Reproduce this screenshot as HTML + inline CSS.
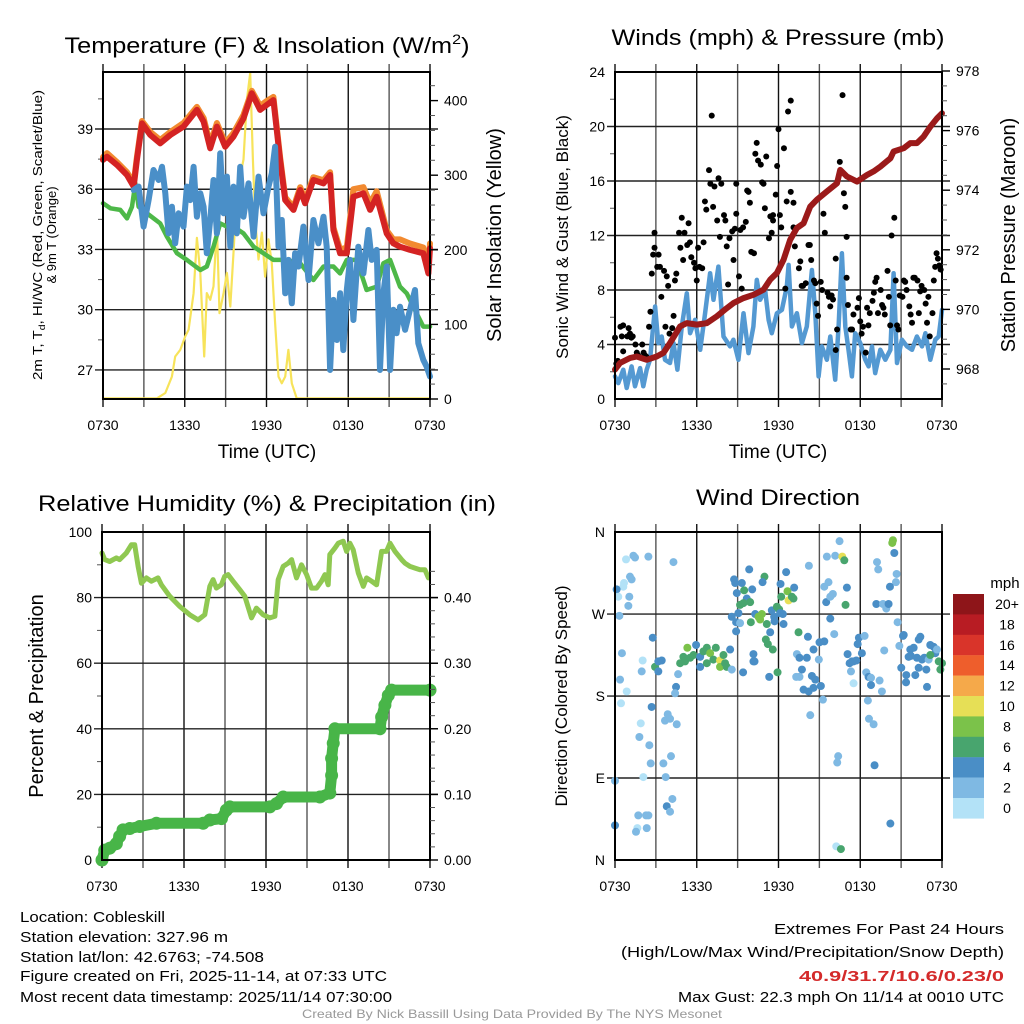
<!DOCTYPE html>
<html><head><meta charset="utf-8"><style>
html,body{margin:0;padding:0;background:#fff;}
svg{display:block;font-family:"Liberation Sans",Arial,sans-serif;}
</style></head><body>
<svg id="fig" width="1024" height="1024" viewBox="0 0 1024 1024" xmlns="http://www.w3.org/2000/svg">
<rect width="1024" height="1024" fill="#fff"/>
<g id="grids"></g>
<g id="series"></g>
<g id="frames"></g>
<g id="labels" fill="#000">
<text x="267" y="53" font-size="22" text-anchor="middle" textLength="405" lengthAdjust="spacingAndGlyphs">Temperature (F) &amp; Insolation (W/m<tspan font-size="14" dy="-9">2</tspan><tspan dy="9">)</tspan></text>
<text x="778" y="45" font-size="22" text-anchor="middle" textLength="333" lengthAdjust="spacingAndGlyphs">Winds (mph) &amp; Pressure (mb)</text>
<text x="267" y="511" font-size="22" text-anchor="middle" textLength="458" lengthAdjust="spacingAndGlyphs">Relative Humidity (%) &amp; Precipitation (in)</text>
<text x="778" y="505" font-size="22" text-anchor="middle" textLength="164" lengthAdjust="spacingAndGlyphs">Wind Direction</text>
<text x="267" y="458" font-size="19" text-anchor="middle">Time (UTC)</text>
<text x="778" y="458" font-size="19" text-anchor="middle">Time (UTC)</text>
<g font-size="13" text-anchor="middle">
<text transform="translate(42,235) rotate(-90)" textLength="290" lengthAdjust="spacingAndGlyphs">2m T, T<tspan font-size="9" dy="3">d</tspan><tspan dy="-3">, HI/WC (Red, Green, Scarlet/Blue)</tspan></text>
<text transform="translate(56,235) rotate(-90)">&amp; 9m T (Orange)</text>
</g>
<text transform="translate(501,235) rotate(-90)" font-size="20" text-anchor="middle">Solar Insolation (Yellow)</text>
<text transform="translate(568,237) rotate(-90)" font-size="17" text-anchor="middle">Sonic Wind &amp; Gust (Blue, Black)</text>
<text transform="translate(1015,235) rotate(-90)" font-size="20" text-anchor="middle">Station Pressure (Maroon)</text>
<text transform="translate(43,696) rotate(-90)" font-size="20" text-anchor="middle">Percent &amp; Precipitation</text>
<text transform="translate(567,696) rotate(-90)" font-size="17" text-anchor="middle">Direction (Colored By Speed)</text>
<text x="1005" y="588" font-size="15" text-anchor="middle">mph</text>
<g font-size="15">
<text x="20" y="922" textLength="145" lengthAdjust="spacingAndGlyphs">Location: Cobleskill</text>
<text x="20" y="942" textLength="208" lengthAdjust="spacingAndGlyphs">Station elevation: 327.96 m</text>
<text x="20" y="962" textLength="244" lengthAdjust="spacingAndGlyphs">Station lat/lon: 42.6763; -74.508</text>
<text x="20" y="981" textLength="367" lengthAdjust="spacingAndGlyphs">Figure created on Fri, 2025-11-14, at 07:33 UTC</text>
<text x="20" y="1002" textLength="372" lengthAdjust="spacingAndGlyphs">Most recent data timestamp: 2025/11/14 07:30:00</text>
</g>
<g font-size="15" text-anchor="end">
<text x="1004" y="934" textLength="230" lengthAdjust="spacingAndGlyphs">Extremes For Past 24 Hours</text>
<text x="1004" y="957" textLength="383" lengthAdjust="spacingAndGlyphs">(High/Low/Max Wind/Precipitation/Snow Depth)</text>
<text x="1004" y="981" fill="#d42a2a" font-weight="bold" textLength="205" lengthAdjust="spacingAndGlyphs">40.9/31.7/10.6/0.23/0</text>
<text x="1004" y="1002" textLength="326" lengthAdjust="spacingAndGlyphs">Max Gust: 22.3 mph On 11/14 at 0010 UTC</text>
</g>
<text x="512" y="1018" font-size="12" fill="#999" text-anchor="middle" textLength="420" lengthAdjust="spacingAndGlyphs">Created By Nick Bassill Using Data Provided By The NYS Mesonet</text>
</g>
</svg>
<script>
// ---- Temperature panel data (hours since 0730 UTC) ----
const redH=[0,0.29,1.03,1.76,2.25,2.49,2.86,3.47,4.20,4.94,5.91,6.89,7.38,7.87,8.36,8.97,9.58,10.31,10.92,11.53,12.02,12.51,13.0,13.37,13.98,14.47,14.83,15.44,16.18,16.67,16.91,17.40,17.89,18.38,19.11,19.60,20.09,20.82,21.31,21.80,22.53,23.51,23.88,24];
const redT=[37.46,37.62,37.21,36.71,36.13,37.46,39.28,38.70,38.29,38.70,39.12,39.95,39.37,38.04,39.12,38.12,38.62,39.53,40.78,39.95,40.20,40.44,37.46,35.46,34.97,35.96,35.30,36.46,36.29,36.71,33.97,32.81,32.81,35.63,35.80,34.97,35.63,33.80,33.31,33.14,32.98,32.81,31.81,33.06];
const orangeT=[37.6,37.8,37.35,36.85,36.3,37.6,39.4,38.85,38.45,38.85,39.3,40.1,39.55,38.25,39.3,38.3,38.8,39.7,40.9,40.15,40.4,40.6,37.6,35.6,35.1,36.1,35.45,36.6,36.45,36.85,34.1,33.0,33.1,36.0,36.1,35.3,35.9,33.95,33.5,33.5,33.3,33.1,32.1,33.3];
const greenH=[0,0.54,1.27,1.76,2.13,2.37,2.61,3.23,4.20,4.69,5.43,6.16,7.14,7.62,8.11,8.60,9.09,9.58,10.31,11.05,11.78,12.51,13.49,14.47,15.44,16.18,16.91,17.40,17.89,18.62,19.35,20.09,20.58,21.07,21.80,22.29,23.02,23.51,24];
const greenT=[35.30,35.05,34.97,34.55,35.13,36.29,35.13,34.80,34.30,33.64,32.81,32.48,31.98,32.15,33.14,34.30,34.14,34.14,33.80,33.14,32.81,32.48,32.48,32.31,31.48,32.15,32.15,31.81,32.48,32.48,30.98,31.15,32.31,32.48,31.15,30.82,29.82,29.16,29.16];
const blueH=[2.25,2.61,2.98,3.35,3.71,4.08,4.33,4.57,4.81,5.06,5.30,5.55,5.91,6.16,6.40,6.65,6.89,7.14,7.38,7.62,7.87,8.11,8.36,8.60,8.85,9.09,9.34,9.58,9.82,10.07,10.31,10.68,11.05,11.41,11.78,12.15,12.39,12.63,12.88,13.12,13.37,13.61,13.86,14.10,14.35,14.71,15.08,15.44,15.81,16.18,16.42,16.67,16.91,17.16,17.40,17.64,17.89,18.13,18.38,18.74,19.11,19.48,19.72,20.09,20.33,20.58,20.82,21.07,21.31,21.55,21.80,22.17,22.53,22.90,23.14,23.51,23.75,24];
const blueT=[35.96,36.13,34.14,35.46,36.96,36.46,37.12,35.80,33.80,35.13,33.31,34.80,34.14,36.13,35.46,37.12,34.63,35.80,35.13,32.81,34.47,36.46,33.80,37.79,34.80,36.63,33.14,36.13,33.80,37.12,34.63,36.29,33.64,36.63,34.80,36.13,36.79,38.12,33.14,34.47,30.82,32.48,30.32,32.81,32.15,34.14,31.48,34.47,33.31,34.63,33.14,27.0,30.49,28.49,30.82,27.99,30.98,32.48,29.49,33.14,31.81,33.97,32.48,32.98,27.0,30.82,32.15,27.0,30.0,28.83,30.15,29.0,30.0,30.98,28.33,27.5,27.17,26.67];
const solarH=[0,3.96,4.57,5.06,5.30,5.67,6.04,6.28,6.65,6.89,7.14,7.43,7.62,7.87,8.11,8.36,8.55,8.85,9.09,9.34,9.58,9.82,10.07,10.31,10.56,10.80,11.0,11.17,11.41,11.66,11.90,12.15,12.39,12.63,12.88,13.12,13.37,13.61,13.86,14.22,24];
const solarW=[1,1,8,30,57,66,84,93,142,216,169,57,142,133,151,232,115,142,169,124,196,276,299,321,401,437,321,240,187,223,164,214,182,102,30,21,30,66,21,1,1];
// ---- Wind / pressure panel data ----
const presH=[0,0.37,1.10,1.59,2.33,3.06,3.55,4.04,4.78,5.27,6.0,6.74,7.47,8.20,8.69,9.43,10.16,10.90,11.39,11.88,12.37,12.86,13.35,13.84,14.33,14.82,15.55,16.29,16.53,17.02,17.76,18.49,18.98,19.47,20.21,20.45,21.19,21.67,22.16,22.65,23.14,23.63,24];
const presMb=[967.98,968.20,968.37,968.42,968.31,968.42,968.54,968.87,969.43,969.54,969.49,969.54,969.77,970.04,970.21,970.38,970.49,970.66,971.0,971.22,971.66,972.34,972.73,972.89,973.45,973.68,973.96,974.23,974.68,974.46,974.29,974.51,974.63,974.79,975.07,975.30,975.41,975.58,975.58,975.80,976.13,976.41,976.58];
const windH=[0,0.24,0.61,0.86,1.22,1.47,1.84,2.08,2.33,2.57,2.94,3.18,3.43,3.67,4.04,4.29,4.58,4.90,5.27,5.51,5.88,6.25,6.61,6.98,7.23,7.59,7.96,8.45,8.69,9.06,9.43,9.80,10.16,10.41,10.65,11.02,11.27,11.51,11.88,12.25,12.61,12.74,12.98,13.35,13.72,14.08,14.45,14.70,14.94,15.18,15.55,15.80,16.16,16.41,16.65,16.90,17.14,17.39,17.63,18.0,18.37,18.61,18.86,19.10,19.47,19.84,20.21,20.45,20.70,21.06,21.43,21.80,22.16,22.53,22.78,23.14,23.51,23.76,24];
const windMph=[1.66,1.17,2.15,0.81,2.39,0.93,2.27,0.93,2.15,2.88,6.79,4.10,4.59,2.88,2.64,4.10,2.15,5.32,7.76,4.83,5.81,3.61,6.30,9.23,7.28,9.72,4.59,3.86,4.35,2.88,6.30,3.37,5.32,8.74,7.28,8.01,5.81,4.83,6.30,6.54,8.25,9.84,5.32,6.30,4.10,5.32,9.47,6.30,1.66,3.86,2.88,4.59,1.42,5.32,10.69,5.32,3.61,1.66,4.83,4.10,2.88,2.39,3.86,1.90,3.61,2.88,3.61,9.23,2.64,4.35,3.86,3.61,4.59,3.86,4.83,2.88,4.35,4.59,6.54];
const gustH=[0.0,0.1,0.2,0.4,0.6,0.5,0.6,0.9,1.0,1.1,1.2,1.3,1.5,1.6,1.7,2.0,2.1,2.2,2.3,2.5,2.6,2.7,2.8,2.9,2.9,3.1,3.2,3.3,3.4,3.6,3.7,3.8,3.9,4.0,4.2,4.3,4.4,4.5,4.7,4.8,4.9,5.0,5.1,5.3,5.4,5.5,5.6,5.8,5.9,6.0,6.1,6.2,6.4,6.5,6.6,6.7,6.9,7.0,7.1,7.2,7.3,7.5,7.6,7.7,7.8,8.0,8.1,8.2,8.3,8.4,8.6,8.7,8.8,8.9,8.9,9.1,9.2,9.3,9.4,9.6,9.7,9.8,9.9,10.0,10.2,10.3,10.4,10.5,10.7,10.8,10.9,11.0,11.1,11.3,11.4,11.5,11.6,11.6,11.8,11.9,12.0,12.1,12.2,12.4,12.5,12.6,12.7,12.9,12.9,13.1,13.1,13.2,13.5,13.6,13.7,13.8,14.0,14.2,14.3,14.4,14.6,14.7,14.8,14.9,15.1,15.2,15.3,15.4,15.6,15.7,15.8,15.9,16.0,16.2,16.2,16.3,16.5,16.7,16.8,16.9,17.0,17.0,17.1,17.3,17.4,17.5,17.8,17.9,18.0,18.1,18.2,18.4,18.5,18.6,18.7,18.9,19.0,19.1,19.2,19.3,19.5,19.6,19.7,19.8,20.0,20.1,20.2,20.3,20.5,20.6,20.7,20.8,20.9,21.1,21.2,21.3,21.4,21.6,21.7,21.8,21.9,22.0,22.2,22.3,22.4,22.5,22.7,22.8,22.9,23.0,23.1,23.3,23.4,23.5,23.6,23.7,23.8,23.9];
const gustMph=[4.5,2.6,2.8,5.3,5.4,4.6,3.5,4.6,5.2,4.8,4.5,4.6,4.0,3.4,3.2,4.0,3.4,3.2,3.1,5.3,6.4,9.2,10.6,11.1,12.2,9.7,10.6,9.7,7.5,9.4,5.3,9.0,8.3,4.8,5.2,6.1,8.7,9.2,12.2,11.1,13.3,10.2,12.2,11.3,12.9,11.5,10.4,10.0,9.6,8.7,11.1,9.7,9.6,11.5,14.5,13.9,16.8,15.8,20.8,14.1,15.6,13.1,16.2,11.9,15.8,13.5,13.1,11.2,8.4,11.8,12.3,10.2,12.5,13.6,15.8,9.0,12.4,8.1,12.6,13.0,15.3,15.2,14.4,10.8,10.7,18.0,18.8,17.5,17.2,15.9,15.8,14.0,17.8,11.8,13.4,12.2,13.5,13.1,15.0,17.1,19.8,13.5,12.6,18.4,8.1,14.5,21.1,21.9,15.2,14.4,12.6,11.2,9.6,10.1,8.3,8.3,8.5,11.3,11.3,10.2,8.7,8.5,7.0,6.1,8.6,8.0,13.6,12.2,7.8,7.5,6.8,7.6,7.3,3.6,10.3,5.1,17.4,22.3,15.1,14.1,11.9,8.9,6.9,5.1,5.1,6.2,6.7,7.4,5.7,4.8,5.3,3.4,6.7,5.4,6.3,7.2,7.8,8.6,8.9,6.3,8.0,6.9,6.7,6.2,9.4,7.5,5.4,12.0,13.3,8.7,5.4,5.1,7.6,7.5,8.7,8.6,8.0,6.8,6.2,5.6,8.9,8.9,8.7,6.3,7.9,8.3,8.0,7.0,5.6,7.5,4.6,6.3,8.7,9.7,10.7,10.3,9.8,9.5];
// ---- RH / precipitation panel data ----
const rhH=[0,0.2,0.56,1.05,1.29,1.78,2.15,2.39,2.64,2.88,3.25,3.61,4.10,4.35,4.96,5.69,6.42,7.03,7.52,7.89,8.13,8.37,8.74,8.98,9.23,9.59,10.08,10.45,10.94,11.30,11.79,12.28,12.65,12.89,13.26,13.62,13.87,14.23,14.60,14.97,15.33,15.70,16.06,16.31,16.55,16.67,17.04,17.29,17.65,17.90,18.14,18.38,18.75,19.12,19.36,19.73,20.09,20.46,20.82,21.07,21.44,21.92,22.17,22.53,22.90,23.27,23.63,23.88];
const rhPct=[93.6,91.6,91.0,92.1,91.6,93.6,96.1,96.1,89.5,84.4,86.0,85.0,86.0,83.9,80.4,77.3,74.8,73.2,74.8,83.4,85.5,82.9,83.9,86.5,87.0,85.0,82.4,80.4,73.8,76.8,74.8,73.8,74.3,85.5,89.5,90.5,91.6,86.0,90.0,87.0,82.9,82.9,85.0,87.0,83.9,93.1,95.1,96.6,97.2,94.1,96.6,94.6,87.5,83.4,86.0,85.0,83.9,94.1,94.1,96.6,94.1,91.6,90.5,89.5,89.0,88.5,88.5,86.0];
const precipH=[0,0.2,0.56,1.05,1.29,1.54,2.03,2.76,3.98,7.40,7.89,8.74,9.10,9.35,12.28,12.77,13.26,15.94,16.67,16.80,16.80,16.92,17.04,20.34,20.46,20.70,20.95,21.19,24];
const precipIn=[0,0.015,0.018,0.025,0.036,0.046,0.048,0.051,0.056,0.056,0.061,0.063,0.076,0.081,0.081,0.086,0.096,0.096,0.102,0.129,0.155,0.178,0.20,0.20,0.218,0.236,0.251,0.259,0.259];
// ---- Wind direction panel data ----
const dirH=[0.81,1.35,1.47,2.45,4.29,1.10,1.22,0.66,0.61,0.12,0.24,1.05,0.98,0.32,2.77,0.51,2.03,1.96,2.94,3.18,3.43,3.18,0.37,0.86,0.44,2.69,4.63,4.48,4.41,3.87,3.67,4.04,4.53,1.89,1.79,2.52,2.62,3.55,4.11,3.72,2.08,0,4.21,3.80,4.04,1.71,2.28,2.45,1.64,1.54,2.33,0,5.31,5.02,4.78,5.14,5.51,5.76,5.95,6.25,6.49,6.74,6.98,7.40,6.25,6.74,7.22,7.71,7.71,7.96,8.20,8.45,8.57,8.08,9.40,10.16,10.24,8.74,8.82,9.31,9.85,8.94,9.48,9.67,10.07,9.18,9.43,9.92,10.97,10.83,8.57,9.06,8.89,8.89,9.18,9.97,10.29,10.53,10.78,10.65,11.14,11.39,11.51,11.68,11.71,11.88,12.05,12.12,12.32,12.37,12.15,12.20,12.56,12.66,12.74,12.98,13.15,13.10,11.07,11.22,11.58,11.93,11.32,10.16,13.47,14.23,14.16,13.35,13.54,14.08,13.72,13.30,13.54,14.45,14.70,14.57,15.01,15.36,14.96,13.84,14.21,14.57,15.11,15.26,14.33,15.80,16.09,15.55,16.16,16.48,16.68,16.83,15.36,15.67,15.99,15.50,15.80,17.02,16.92,17.90,18.32,17.81,18.12,17.07,17.22,17.39,17.51,17.71,17.32,18.44,17.51,18.61,18.79,19.42,19.59,18.79,18.56,18.64,18.98,16.38,16.31,19.05,16.24,16.58,19.23,19.32,20.67,20.62,20.18,20.50,20.40,20.35,19.18,19.67,19.91,20.08,20.74,19.76,21.19,21.14,20.87,22.41,22.29,21.67,21.92,21.55,21.72,22.16,22.53,22.70,23.02,23.14,23.39,23.51,23.63,23.14,23.76,23.88,24.0,21.01,21.38,22.04,22.29,22.85,22.90,21.36,20.21];
const dirDeg=[330,334,332,333,327,311,308,304,300,297,289,289,279,268,244,227,219,207,212,218,219,207,198,185,172,168,204,190,183,160,153,155,149,150,135,126,106,106,114,91,91,87,67,59,53,49,49,49,35,31,35,38,233,223,216,218,222,225,236,223,229,233,227,233,212,216,220,219,212,225,212,231,209,216,206,226,218,308,304,304,319,293,296,287,297,280,282,283,311,305,267,271,261,251,260,261,270,267,270,264,259,250,274,267,262,278,275,271,270,259,303,289,316,295,285,289,299,287,242,237,231,206,201,218,250,323,245,226,222,222,209,201,201,202,198,231,239,240,220,187,185,189,191,176,159,265,248,333,334,350,333,329,300,305,292,283,289,299,280,244,246,237,227,226,216,218,218,219,207,206,194,201,200,197,185,192,175,155,149,114,107,104,15,12,327,319,314,305,300,337,351,348,281,281,276,281,261,230,247,246,235,245,242,231,233,223,224,222,220,222,220,236,234,227,231,225,218,209,216,211,203,203,211,209,190,195,40];
const dirSpd=[1,3,3,3,3,3,3,1,1,5,1,3,3,3,5,3,1,3,7,5,5,5,3,1,1,5,3,5,3,3,3,3,3,1,3,3,3,3,3,3,1,3,3,5,3,3,3,3,1,3,3,5,9,7,7,7,7,7,5,5,7,7,9,7,5,7,7,11,9,7,7,5,3,7,5,5,5,5,5,5,5,5,7,5,5,7,7,7,7,5,5,5,5,5,3,7,5,9,9,9,7,5,5,5,5,7,7,5,5,5,5,7,5,9,11,7,5,7,7,7,7,7,5,5,7,3,5,3,5,5,5,3,3,5,5,5,5,5,3,5,5,5,5,3,3,5,3,3,3,3,11,7,3,3,3,5,3,5,7,5,3,5,5,5,5,5,5,5,3,3,1,5,3,3,3,5,3,3,3,3,3,5,1,7,3,3,3,3,5,5,9,9,5,3,3,5,3,3,5,5,3,5,5,5,5,5,5,5,5,5,3,5,5,5,3,7,7,7,7,5,5,5,5,5,5,5,5];
const cbLabels=["20+","18","16","14","12","10","8","6","4","2","0"];
const cbColors=["#8e1519","#b81c23","#d9342a","#ee5e2c","#f5a94a","#e6df56","#7bc24a","#48a56e","#4a8ec6","#7fb9e3","#b3e2f7"];
const xTickLabels=["0730","1330","1930","0130","0730"];
const tempTicks=[27,30,33,36,39];
const solarTicks=[0,100,200,300,400];
const windTicks=[0,4,8,12,16,20,24];
const presTicks=[968,970,972,974,976,978];
const rhTicks=[0,20,40,60,80,100];
const prTicks=["0.00","0.10","0.20","0.30","0.40"];
const dirTicks=["N","E","S","W","N"];

const NS="http://www.w3.org/2000/svg";
function mk(tag,attrs,parent){const e=document.createElementNS(NS,tag);for(const k in attrs)e.setAttribute(k,attrs[k]);parent.appendChild(e);return e;}
const G=document.getElementById('grids'),S=document.getElementById('series'),F=document.getElementById('frames'),L=document.getElementById('labels');
const P={t:{x0:103,x1:430,y0:72,y1:399},w:{x0:615,x1:942,y0:72,y1:399},r:{x0:102,x1:430,y0:532,y1:860},d:{x0:615,x1:942,y0:532,y1:860}};
function xs(p,h){return p.x0+h/24*(p.x1-p.x0);}
const yTemp=v=>129+(39-v)*20.08, ySolar=v=>399-v*0.746, yWind=v=>399-v*13.625, yPres=v=>369-(v-968)*29.8, yRh=v=>860-v*3.28, yPr=v=>860-v*656, yDir=v=>860-v*0.911;

function panelGrid(p,name,hy){
  const g=mk('g',{},G);
  
  
  for(let i=0;i<=8;i++){const x=p.x0+i*(p.x1-p.x0)/8;mk('line',{x1:x,x2:x,y1:p.y0-8,y2:p.y1+8,stroke:i%2?'#555':'#111','stroke-width':1.4},g);}
  hy.forEach(y=>mk('line',{x1:p.x0-8,x2:p.x1+8,y1:y,y2:y,stroke:'#222','stroke-width':1.4},g));
  const f=mk('rect',{x:p.x0,y:p.y0,width:p.x1-p.x0,height:p.y1-p.y0,fill:'none',stroke:'#000','stroke-width':2},F);
  
  
  const xl=mk('g',{'font-size':14,'text-anchor':'middle'},L);
  
  
  xTickLabels.forEach((t,i)=>{const e=mk('text',{x:xs(p,i*6),y:p.y1+31},xl);e.textContent=t;});
}
function leftLabels(p,name,vals,fn,txt){
  const g=mk('g',{'font-size':14,'text-anchor':'end'},L);
  
  
  vals.forEach((v,i)=>{const e=mk('text',{x:p.x0-10,y:fn(v)+5},g);e.textContent=txt?txt[i]:v;});
}
function rightLabels(p,name,vals,fn,txt,minor){
  const g=mk('g',{'font-size':14,'text-anchor':'start'},L);
  
  
  vals.forEach((v,i)=>{const y=fn(v);mk('line',{x1:p.x1,x2:p.x1+8,y1:y,y2:y,stroke:'#000','stroke-width':1.4},g);const e=mk('text',{x:p.x1+14,y:y+5},g);e.textContent=txt?txt[i]:v;});
  minor.forEach(v=>{const y=fn(v);if(y>p.y0&&y<p.y1)mk('line',{x1:p.x1,x2:p.x1+5,y1:y,y2:y,stroke:'#555','stroke-width':1},g);});
}
function leftMinor(p,vals,fn){vals.forEach(v=>{const y=fn(v);if(y>p.y0&&y<p.y1)mk('line',{x1:p.x0-5,x2:p.x0,y1:y,y2:y,stroke:'#555','stroke-width':1},G);});}
function line(p,hs,vs,fy,color,w,name){
  const pts=hs.map((h,i)=>xs(p,h).toFixed(1)+','+fy(vs[i]).toFixed(1)).join(' ');
  const e=mk('polyline',{points:pts,fill:'none',stroke:color,'stroke-width':w,'stroke-linejoin':'round','stroke-linecap':'round'},S);
  
  
  return e;
}

// Panel 1
panelGrid(P.t,'temp-panel',tempTicks.map(yTemp));
leftLabels(P.t,'temp-y-tick-labels',tempTicks,yTemp);
leftMinor(P.t,[25.5,28.5,31.5,34.5,37.5,40.5],yTemp);
rightLabels(P.t,'solar-y-tick-labels',solarTicks,ySolar,null,[20,40,60,80,120,140,160,180,220,240,260,280,320,340,360,380,420]);
line(P.t,solarH,solarW,ySolar,'#f7e35a',2.2,'solar-insolation-line');
line(P.t,greenH,greenT,yTemp,'#4db848',4.5,'dewpoint-line');
line(P.t,redH,orangeT,yTemp,'#f28a30',6,'temp-9m-line');
line(P.t,redH,redT,yTemp,'#d42323',6,'temp-2m-line');
line(P.t,blueH,blueT,yTemp,'#4a8fc8',6,'wind-chill-line');

// Panel 2
panelGrid(P.w,'wind-panel',windTicks.slice(1,6).map(yWind));
leftLabels(P.w,'wind-y-tick-labels',windTicks,yWind);
leftMinor(P.w,[2,6,10,14,18,22],yWind);
rightLabels(P.w,'pressure-y-tick-labels',presTicks,yPres,null,[967.5,968.5,969,969.5,970.5,971,971.5,972.5,973,973.5,974.5,975,975.5,976.5,977,977.5]);
line(P.w,windH,windMph,yWind,'#5499d2',4.5,'sonic-wind-line');
const gg=mk('g',{},S);


gustH.forEach((h,i)=>{const c=mk('circle',{cx:xs(P.w,h),cy:yWind(gustMph[i]),r:3,fill:'#000'},gg);

});
line(P.w,presH,presMb,yPres,'#9b1a1a',6,'pressure-line');

// Panel 3
panelGrid(P.r,'rh-panel',rhTicks.slice(1,5).map(yRh));
leftLabels(P.r,'rh-y-tick-labels',rhTicks,yRh);
leftMinor(P.r,[10,30,50,70,90],yRh);
rightLabels(P.r,'precip-y-tick-labels',[0,0.1,0.2,0.3,0.4],yPr,prTicks,[0.02,0.04,0.06,0.08,0.12,0.14,0.16,0.18,0.22,0.24,0.26,0.28,0.32,0.34,0.36,0.38,0.42,0.44]);
line(P.r,rhH,rhPct,yRh,'#8fc851',5,'relative-humidity-line');
line(P.r,precipH,precipIn,yPr,'#48b548',11,'precipitation-line');
const pg=mk('g',{},S);


precipH.forEach((h,i)=>{const c=mk('circle',{cx:xs(P.r,h),cy:yPr(precipIn[i]),r:6.5,fill:'#48b548'},pg);

});

// Panel 4
panelGrid(P.d,'direction-panel',[90,180,270].map(yDir));
leftLabels(P.d,'direction-y-tick-labels',[0,90,180,270,360],yDir,dirTicks);
const dg=mk('g',{},S);


dirH.forEach((h,i)=>{const s=(dirSpd[i]===undefined)?5:dirSpd[i];const k=Math.min(10,Math.floor(s/2));const c=mk('circle',{cx:xs(P.d,h),cy:yDir(dirDeg[i]),r:4,fill:cbColors[10-k]},dg);

});
// colorbar
const cb=mk('g',{},L);


cbColors.forEach((c,i)=>{mk('rect',{x:953,y:594+i*20.4,width:31,height:20.6,fill:c},cb);const t=mk('text',{x:1007,y:594+i*20.4+15,'font-size':14,'text-anchor':'middle'},cb);t.textContent=cbLabels[i];});
</script>
</body></html>
